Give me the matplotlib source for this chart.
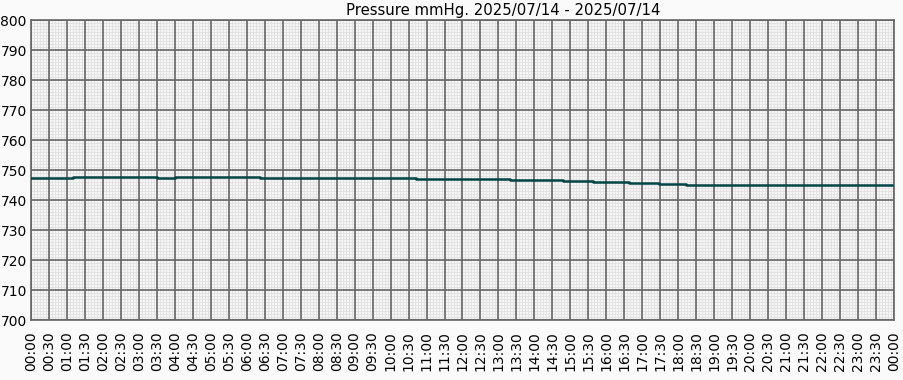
import numpy as np
import matplotlib
matplotlib.use('Agg')
import matplotlib.pyplot as plt

# step change times (hours since 00:00) and pressure values (mmHg)
hours=[0.0,1.17,3.5,4.0,6.37,10.7,13.32,14.8,15.63,16.63,17.46,18.21,23.94]
pressure=[747.3,747.8,747.3,747.8,747.5,747.0,746.7,746.3,746.0,745.7,745.4,745.1,745.1]
tick_labels=['%02d:%02d'%((m//60)%24,m%60) for m in range(0,24*60+1,30)]
title='Pressure mmHg. 2025/07/14 - 2025/07/14'

fig=plt.figure(figsize=(9.04,3.8),dpi=100)
fig.patch.set_facecolor('#fafafa')
ax=fig.add_axes([31/904,1-320/380,863/904,300/380])
ax.set_facecolor('#f6f6f6')

ax.set_xlim(0,24)
ax.set_ylim(700,800)
ax.set_xticks(np.arange(0,24.01,0.5))
ax.set_xticklabels(tick_labels,rotation=90,fontsize=10)
ax.set_yticks(np.arange(700,801,10))
ax.tick_params(axis='y',labelsize=10,length=0,pad=3)
ax.tick_params(axis='x',length=0,pad=8)

# fine background mesh (5 min x 1 mmHg)
ax.vlines(np.arange(0,24,1/12),700,800,color='#e3e3e3',linewidth=0.7,zorder=0.1)
ax.hlines(np.arange(700,800,1),0,24,color='#e3e3e3',linewidth=0.7,zorder=0.1)
ax.grid(which='major',color='#666666',linewidth=1.2)
ax.set_axisbelow(True)
for s in ax.spines.values():
    s.set_color('#666666')
    s.set_linewidth(1.2)

ax.plot(hours,pressure,drawstyle='steps-post',color='#004444',linewidth=1.8,zorder=3)
fig.text(503/904,1-10/380,title,fontsize=10.7,ha='center',va='center')

fig.savefig('out.png',dpi=100,facecolor=fig.get_facecolor())
